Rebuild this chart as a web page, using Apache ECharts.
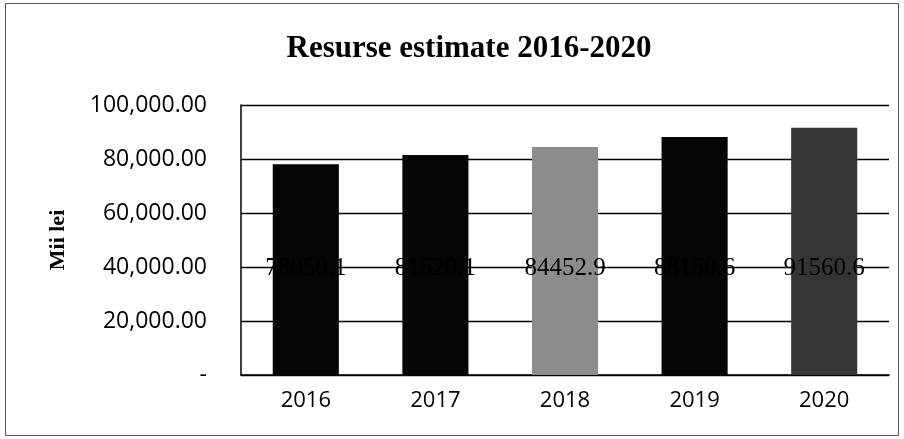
<!DOCTYPE html>
<html>
<head>
<meta charset="utf-8">
<script src="https://cdn.jsdelivr.net/npm/echarts@6/dist/echarts.min.js"></script>
<style>
html,body{margin:0;padding:0;background:#fff;}
#c{width:904px;height:439px;}
</style>
</head>
<body>
<div id="c"></div>
<script>
const categories = ['2016', '2017', '2018', '2019', '2020'];
const values = [78050.1, 81520.1, 84452.9, 88150.6, 91560.6];
const barColors = ['#050505', '#050505', '#8c8c8c', '#050505', '#353535'];
const yTicks = [0, 20000, 40000, 60000, 80000, 100000];

function fmt(v) {
  if (v === 0) return '-';
  const s = v.toFixed(2);
  const [i, d] = s.split('.');
  return i.replace(/\B(?=(\d{3})+(?!\d))/g, ',') + '.' + d;
}

const chart = echarts.init(document.getElementById('c'), null, {renderer: 'canvas'});
chart.setOption({
  backgroundColor: '#fff',
  animation: false,
  title: {
    text: 'Resurse estimate 2016-2020',
    left: 464, top: 28, textAlign: 'center',
    textStyle: {fontFamily: 'Liberation Serif', fontWeight: 'bold', fontSize: 31, color: '#000'}
  },
  grid: {left: 241, right: 15, top: 105, bottom: 64},
  xAxis: {
    type: 'category',
    data: categories,
    axisLine: {lineStyle: {color: '#000', width: 1.5}},
    axisTick: {show: false},
    axisLabel: {fontFamily: 'Open Sans', fontSize: 22, color: '#000', margin: 15}
  },
  yAxis: {
    type: 'value',
    min: yTicks[0], max: yTicks[yTicks.length - 1], interval: 20000,
    name: 'Mii lei',
    nameLocation: 'middle',
    nameGap: 172,
    nameTextStyle: {fontFamily: 'Liberation Serif', fontWeight: 'bold', fontSize: 22, color: '#000'},
    axisLine: {show: true, lineStyle: {color: '#000', width: 1.5}},
    axisTick: {show: false},
    splitLine: {lineStyle: {color: '#000', width: 1.3}},
    axisLabel: {fontFamily: 'Open Sans', fontSize: 23, color: '#000', margin: 34, formatter: fmt}
  },
  series: [{
    type: 'bar',
    data: values.map((v, i) => ({value: v, itemStyle: {color: barColors[i]}})),
    barWidth: '51%',
    label: {
      show: true,
      position: 'insideBottom',
      distance: 94,
      fontFamily: 'Liberation Serif',
      fontSize: 25,
      color: '#000'
    }
  }],
  graphic: [{
    type: 'rect',
    shape: {x: 5.5, y: 3.5, width: 893, height: 432},
    style: {fill: 'none', stroke: '#555', lineWidth: 1}
  }]
});
</script>
</body>
</html>
